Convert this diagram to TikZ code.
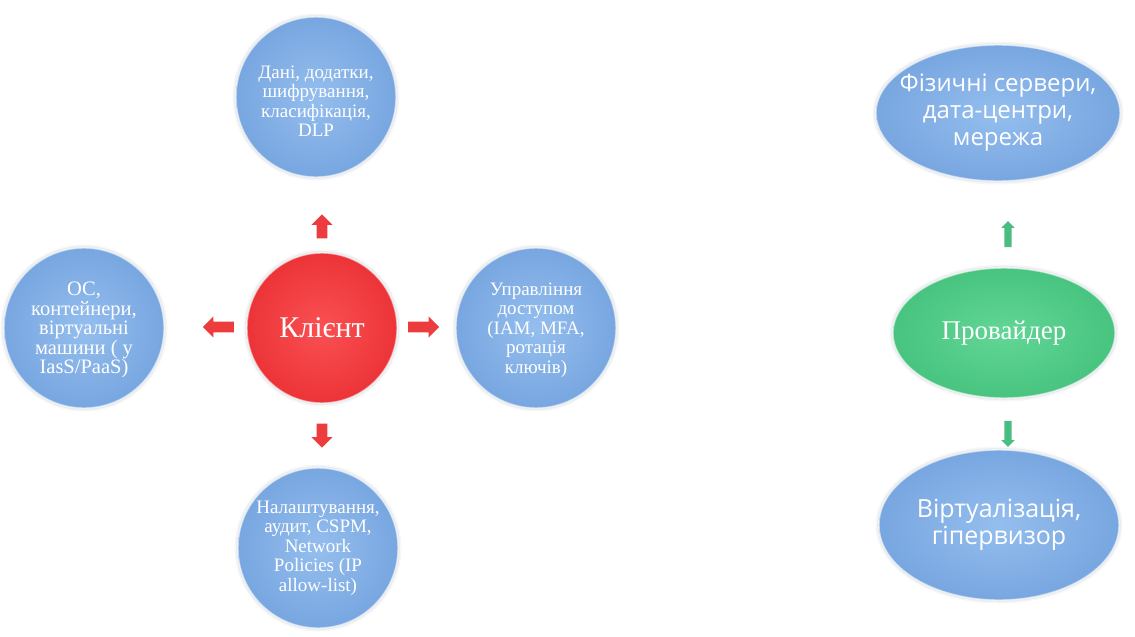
\documentclass[tikz,border=0pt]{standalone}
\usepackage{fontspec}
\setmainfont{Liberation Serif}
\newfontfamily\osans{Open Sans}
\usetikzlibrary{shapes.geometric,shapes.arrows}

\definecolor{blueIn}{RGB}{148,190,238}
\definecolor{blueOut}{RGB}{120,166,224}
\definecolor{redIn}{RGB}{250,80,82}
\definecolor{redOut}{RGB}{236,52,56}
\definecolor{greenIn}{RGB}{98,214,150}
\definecolor{greenOut}{RGB}{72,196,128}
\definecolor{arrRed}{RGB}{236,60,62}
\definecolor{arrGreen}{RGB}{74,190,130}
\definecolor{haloGray}{RGB}{150,160,175}

\tikzset{
  softedge/.style={
    preaction={draw=haloGray, line width=7, draw opacity=0.08},
    preaction={draw=haloGray, line width=4, draw opacity=0.12},
    draw=white, draw opacity=0.55, line width=1.4},
  ball/.style={circle, inner sep=0pt, minimum size=#1, softedge,
    shading=radial},
  blueball/.style={ball=#1, inner color=blueIn, outer color=blueOut},
  oval/.style 2 args={ellipse, inner sep=0pt, minimum width=#1,
    minimum height=#2, softedge, shading=radial},
  blueoval/.style 2 args={oval={#1}{#2}, inner color=blueIn, outer color=blueOut},
  % labels are separate nodes so the shapes keep their given size
  seriftext/.style={text=white, align=center, inner sep=0pt,
    font=\fontsize{#1}{19.5}\selectfont},
  sanstext/.style={text=white, align=center, inner sep=0pt,
    font=\osans\fontsize{25}{27}\selectfont},
  % block arrow drawn pointing right, then turned with rotate
  blockarrow/.style 2 args={single arrow, inner sep=0pt, draw=none,
    minimum width=#1, inner ysep=#2/2, single arrow head extend=(#1-#2)/2},
  redarrow/.style={blockarrow={21}{10.5}, fill=arrRed},
  greenarrow/.style={blockarrow={13}{7}, fill=arrGreen}
}

\begin{document}
\begin{tikzpicture}[x=1pt, y=-1pt]
  \fill[white] (0,0) rectangle (1135,637);
  \useasboundingbox (0,0) rectangle (1135,637);

  % customer side: centre ball with four surrounding responsibilities
  \node[ball=150, inner color=redIn, outer color=redOut] (client) at (322,328) {};
  \node[seriftext=30, font=\fontsize{30}{32}\selectfont] (client-t) at (client) {Клієнт};

  \node[blueball=160] (data) at (316,97) {};
  \node[seriftext=19, yshift=-4pt] (data-t) at (data)
    {Дані, додатки,\\шифрування,\\класифікація,\\DLP};
  \node[blueball=160] (os) at (84,328) {};
  \node[seriftext=20.5, yshift=-2pt] (os-t) at (os)
    {ОС,\\контейнери,\\віртуальні\\машини ( у\\IasS/PaaS)};
  \node[blueball=160] (iam) at (536,328) {};
  \node[seriftext=19, yshift=-2pt] (iam-t) at (iam)
    {Управління\\доступом\\(IAM, MFA,\\ротація\\ключів)};
  \node[blueball=160] (cfg) at (318,548) {};
  \node[seriftext=19] (cfg-t) at (cfg)
    {Налаштування,\\аудит, CSPM,\\Network\\Policies (IP\\allow-list)};

  \node[redarrow, minimum height=24, rotate=90]  (aup)    at (322,229) {};
  \node[redarrow, minimum height=31, rotate=180] (aleft)  at (221,327) {};
  \node[redarrow, minimum height=31]             (aright) at (421,327) {};
  \node[redarrow, minimum height=24, rotate=270] (adown)  at (322,433) {};

  % provider side: vertical stack of ovals
  \node[oval={222}{130}, inner color=greenIn, outer color=greenOut] (prov) at (1004,333) {};
  \node[seriftext=27, font=\fontsize{27}{29}\selectfont] (prov-t) at (prov) {Провайдер};
  \node[blueoval={244}{136}] (phys) at (998,113) {};
  \node[sanstext, font=\osans\fontsize{24}{27}\selectfont] (phys-t) at (phys)
    {Фізичні сервери,\\дата-центри,\\мережа};
  \node[blueoval={240}{150}] (virt) at (999,525) {};
  \node[sanstext] (virt-t) at (virt) {Віртуалізація,\\гіпервизор};

  \node[greenarrow, minimum height=26, rotate=90]  (gup)   at (1008,236) {};
  \node[greenarrow, minimum height=26, rotate=270] (gdown) at (1008,432) {};
\end{tikzpicture}
\end{document}
